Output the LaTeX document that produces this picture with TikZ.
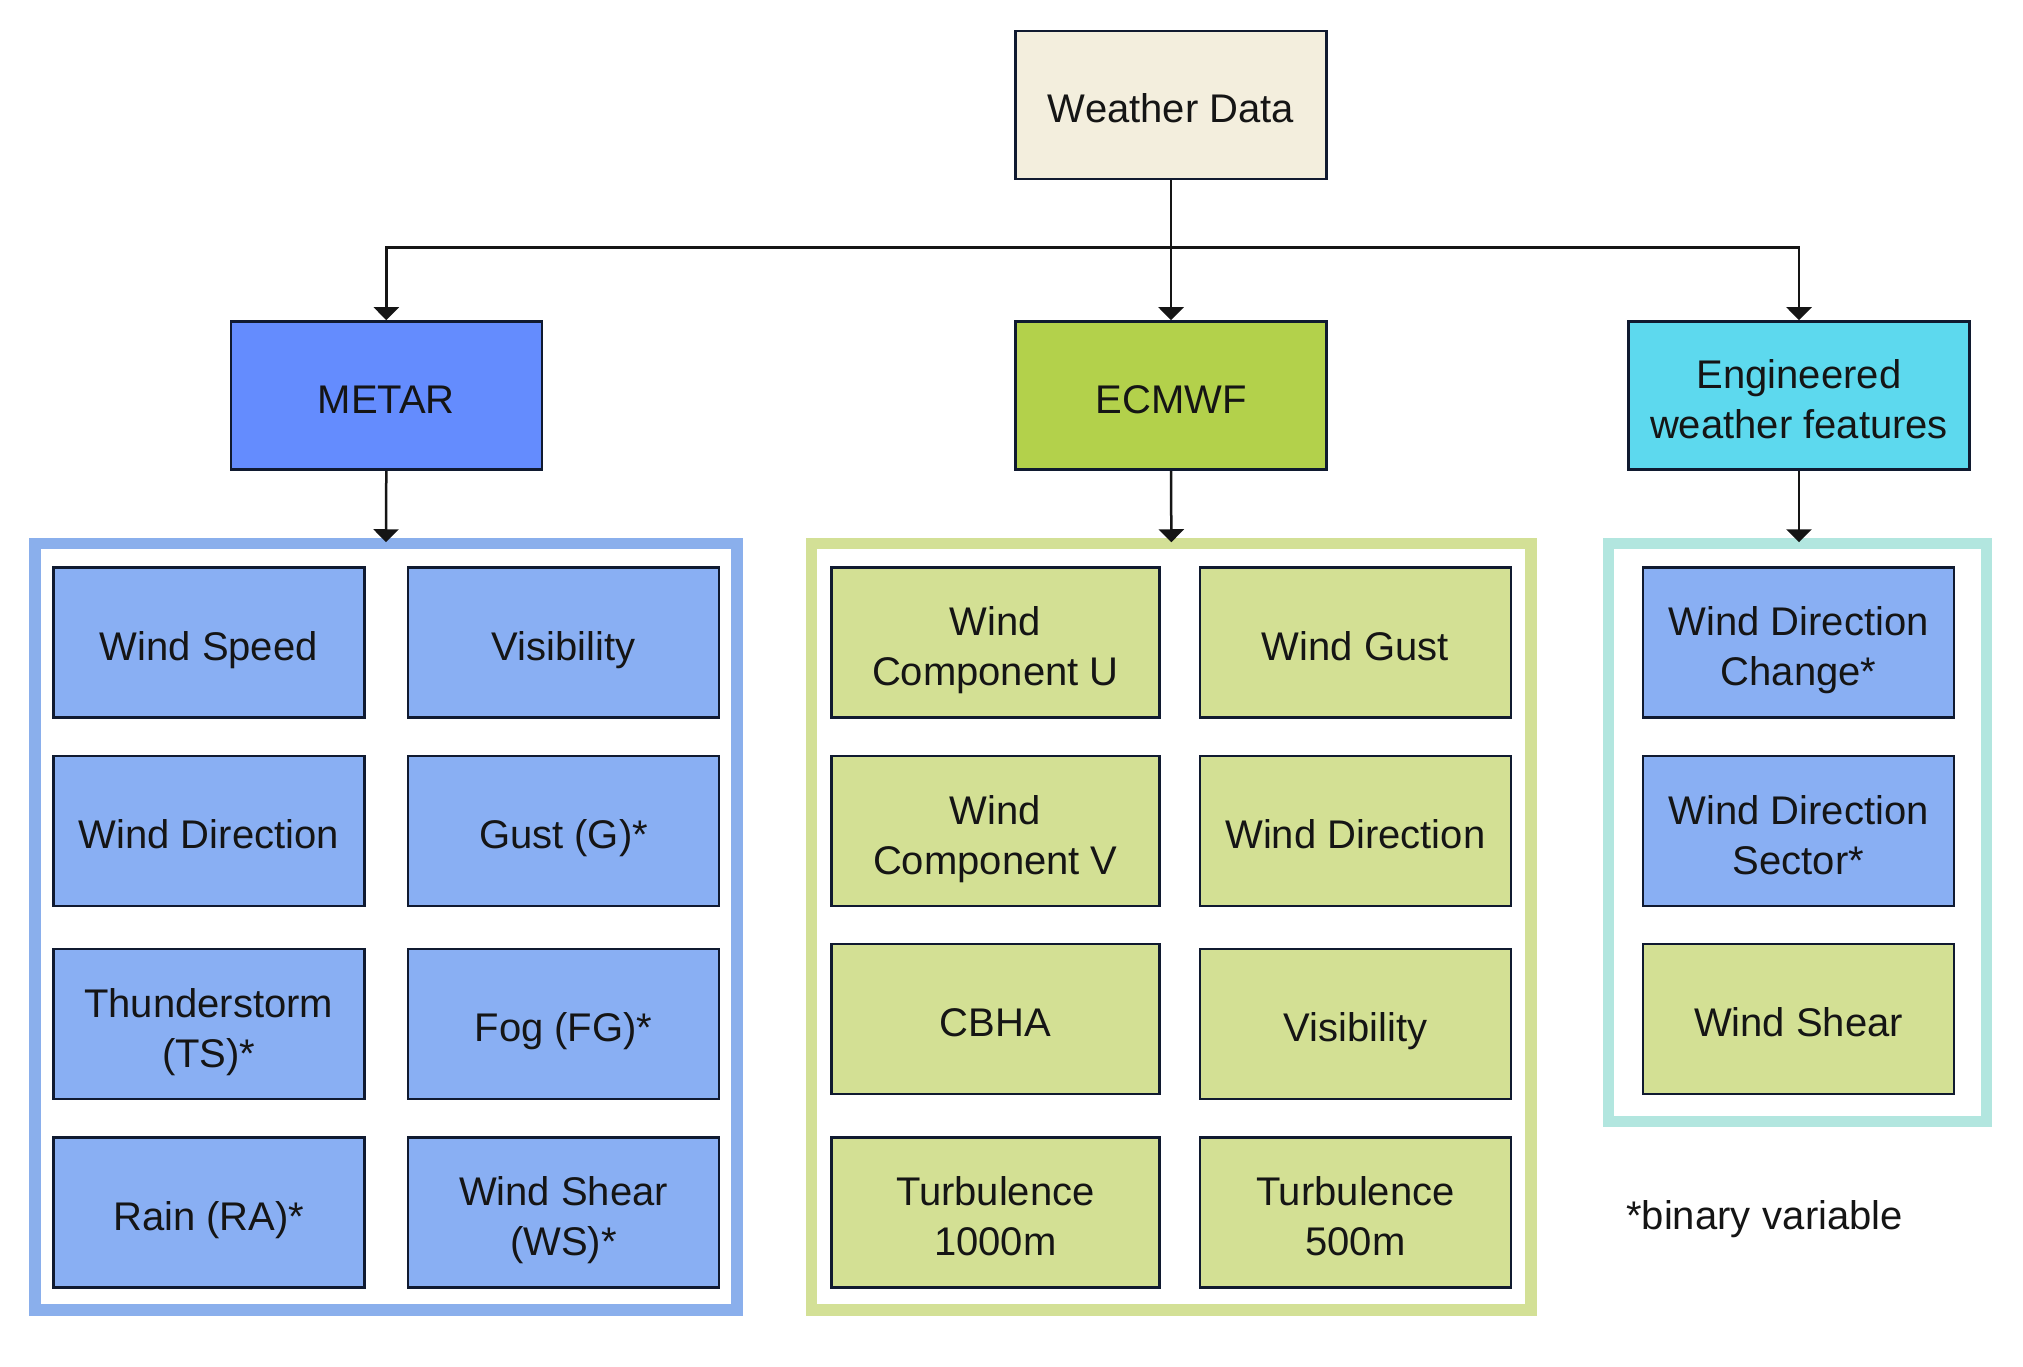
\documentclass[tikz,border=0pt]{standalone}
\usepackage{fontspec}
\setmainfont{Liberation Sans}
\usetikzlibrary{arrows.meta}
\definecolor{boxline}{HTML}{101A30}
\definecolor{txt}{HTML}{151515}
\definecolor{wdfill}{HTML}{F3EEDD}
\definecolor{metarfill}{HTML}{648CFE}
\definecolor{ecmwffill}{HTML}{B3D14B}
\definecolor{engfill}{HTML}{5DD9EE}
\definecolor{bluecell}{HTML}{89AFF3}
\definecolor{greencell}{HTML}{D3E094}
\definecolor{contblue}{HTML}{8AAFEC}
\definecolor{contgreen}{HTML}{D3E096}
\definecolor{contteal}{HTML}{B2E6DF}
\newcommand{\toplift}{\rule{0pt}{45pt}}
\begin{document}
\begin{tikzpicture}[x=1pt,y=-1pt,
  box/.style={draw=boxline, line width=2.6pt, minimum width=311pt, minimum height=150pt,
    inner sep=0pt, align=center, text=txt, font=\fontsize{40}{50}\selectfont,
    execute at begin node={\rule{0pt}{44pt}},
    execute at end node={\rule[-9pt]{0pt}{0pt}}},
  bcell/.style={box, fill=bluecell},
  gcell/.style={box, fill=greencell},
  wcell/.style={gcell, minimum width=328pt},
  cont/.style={line width=11.5pt, fill=none},
  conn/.style={draw=txt, line width=2.5pt, -{Triangle[width=25pt,length=13pt]}},
  plain/.style={draw=txt, line width=2.5pt}]
\useasboundingbox (0,0) rectangle (2023,1367);
\fill[white] (0,0) rectangle (2023,1367);

% containers
\node[cont, draw=contblue, minimum width=702pt, minimum height=766.5pt] (cmetar) at (386,926.75) {};
\node[cont, draw=contgreen, minimum width=719.3pt, minimum height=766.5pt] (cecmwf) at (1171.35,926.75) {};
\node[cont, draw=contteal, minimum width=377.6pt, minimum height=578pt] (ceng) at (1797.5,832.5) {};

% top level
\node[box, fill=wdfill, minimum height=148pt] (wd) at (1171,105) {Weather Data};
\node[box, fill=metarfill, minimum height=148pt] (metar) at (386.3,395.5) {METAR};
\node[box, fill=ecmwffill, minimum height=148pt] (ecmwf) at (1171,395.5) {ECMWF};
\node[box, fill=engfill, minimum width=341pt, minimum height=148pt] (eng) at (1799,395.5) {\toplift Engineered\\weather features};

% METAR cells
\node[bcell] (m11) at (208.8,642.5) {Wind Speed};
\node[bcell] (m12) at (563.5,642.5) {Visibility};
\node[bcell] (m21) at (208.8,831) {Wind Direction};
\node[bcell] (m22) at (563.5,831) {Gust (G)*};
\node[bcell] (m31) at (208.8,1024) {\toplift Thunderstorm\\(TS)*};
\node[bcell] (m32) at (563.5,1024) {Fog (FG)*};
\node[bcell] (m41) at (208.8,1212.5) {Rain (RA)*};
\node[bcell] (m42) at (563.5,1212.5) {\toplift Wind Shear\\(WS)*};

% ECMWF cells
\node[wcell] (e11) at (995.4,642.5) {\toplift Wind\\Component U};
\node[gcell] (e12) at (1355.3,642.5) {Wind Gust};
\node[wcell] (e21) at (995.4,831) {\toplift Wind\\Component V};
\node[gcell] (e22) at (1355.3,831) {Wind Direction};
\node[wcell] (e31) at (995.4,1019) {CBHA};
\node[gcell] (e32) at (1355.3,1024) {Visibility};
\node[wcell] (e41) at (995.4,1212.5) {\toplift Turbulence\\1000m};
\node[gcell] (e42) at (1355.3,1212.5) {\toplift Turbulence\\500m};

% Engineered cells
\node[bcell] (g1) at (1798.5,642.5) {\toplift Wind Direction\\Change*};
\node[bcell] (g2) at (1798.5,831) {\toplift Wind Direction\\Sector*};
\node[gcell] (g3) at (1798.5,1019) {Wind Shear};

% note
\node[anchor=base west, inner sep=0pt, text=txt, font=\fontsize{40}{50}\selectfont] (note) at (1626,1229) {*binary\hspace{1pt} variable};

% connectors
\coordinate (split) at (1171,247.4);
\draw[plain] (wd.south) -- (split);
\draw[conn] (split) -| (metar.north);
\draw[conn] (split) -| (eng.north);
\draw[conn] (wd.south) -- (ecmwf.north);
\draw[conn, shorten >=-4.5pt] (metar.south) -- (cmetar.north);
\draw[conn, shorten >=-4.5pt] (ecmwf.south) -- (cecmwf.north);
\draw[conn, shorten >=-4.5pt] (eng.south) -- (eng.south |- ceng.north);
\end{tikzpicture}
\end{document}
